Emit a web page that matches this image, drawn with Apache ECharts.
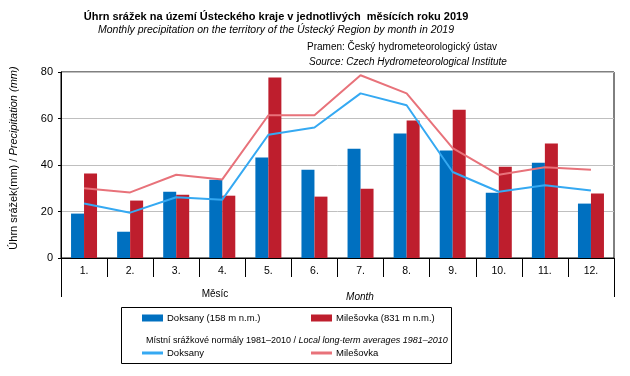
<!DOCTYPE html>
<html><head><meta charset="utf-8">
<script src="https://cdn.jsdelivr.net/npm/echarts@6/dist/echarts.min.js"></script>
<style>html,body{margin:0;padding:0;background:#fff}#c{width:630px;height:376px}</style>
</head><body><div id="c"></div>
<script>
const months = ['1.','2.','3.','4.','5.','6.','7.','8.','9.','10.','11.','12.'];
const doksany2019 = [19.1, 11.3, 28.5, 33.7, 43.2, 38.0, 47.0, 53.5, 46.2, 28.1, 41.0, 23.4];
const milesovka2019 = [36.3, 24.7, 27.2, 26.8, 77.6, 26.4, 29.8, 59.1, 63.8, 39.3, 49.2, 27.7];
const doksanyNormal = [23.4, 19.5, 26.1, 25.1, 53.0, 56.1, 70.8, 65.7, 37.0, 28.5, 31.3, 29.0];
const milesovkaNormal = [30.0, 28.2, 35.8, 33.8, 61.4, 61.4, 78.6, 70.8, 47.3, 35.8, 39.0, 38.0];
const yTicks = {min: 0, max: 80, interval: 20};

const FONT = 'Liberation Sans, Arial, sans-serif';
const chart = echarts.init(document.getElementById('c'), null, {renderer: 'canvas'});
const legendBase = {
  orient: 'horizontal', itemWidth: 21, itemHeight: 7, itemGap: 0,
  textStyle: {fontFamily: FONT, fontSize: 9.5, color: '#000', padding: [0, 0, 0, -1]},
  padding: 0, selectedMode: false
};
chart.setOption({
  animation: false,
  textStyle: {fontFamily: FONT},
  title: [
    {text: 'Úhrn srážek na území Ústeckého kraje v jednotlivých  měsících roku 2019', left: 271, top: 6, textAlign: 'center',
     textStyle: {fontFamily: FONT, fontSize: 11, fontWeight: 'bold', color: '#000'}},
    {text: 'Monthly precipitation on the territory of the Ústecký Region by month in 2019', left: 271, top: 20, textAlign: 'center',
     textStyle: {fontFamily: FONT, fontSize: 10.5, fontStyle: 'italic', fontWeight: 'normal', color: '#000'}},
    {text: 'Pramen: Český hydrometeorologický ústav', left: 302, top: 37,
     textStyle: {fontFamily: FONT, fontSize: 10, fontWeight: 'normal', color: '#000'}},
    {text: 'Source: Czech Hydrometeorological Institute', left: 304, top: 52,
     textStyle: {fontFamily: FONT, fontSize: 10, fontStyle: 'italic', fontWeight: 'normal', color: '#000'}},
    {text: 'Měsíc', left: 210, top: 284, textAlign: 'center',
     textStyle: {fontFamily: FONT, fontSize: 10, fontWeight: 'normal', color: '#000'}},
    {text: 'Month', left: 355, top: 287, textAlign: 'center',
     textStyle: {fontFamily: FONT, fontSize: 10, fontStyle: 'italic', fontWeight: 'normal', color: '#000'}},
    {text: 'Místní srážkové normály 1981–2010 / {i|Local long-term averages 1981–2010}', left: 141, top: 331,
     textStyle: {fontFamily: FONT, fontSize: 9, fontWeight: 'normal', color: '#000',
       rich: {i: {fontFamily: FONT, fontSize: 9, fontStyle: 'italic', color: '#000'}}}}
  ],
  graphic: [
    {type: 'rect', shape: {x: 121.5, y: 307.5, width: 330, height: 56},
     style: {fill: 'none', stroke: '#000', lineWidth: 1}, z: -1}
  ],
  legend: [
    Object.assign({}, legendBase, {left: 142, top: 313, data: [{name: 'Doksany (158 m n.m.)', icon: 'rect'}]}),
    Object.assign({}, legendBase, {left: 311, top: 313, data: [{name: 'Milešovka (831 m n.m.)', icon: 'rect'}]}),
    Object.assign({}, legendBase, {left: 142, top: 348, data: [{name: 'Doksany', icon: 'rect'}], itemHeight: 3}),
    Object.assign({}, legendBase, {left: 311, top: 348, data: [{name: 'Milešovka', icon: 'rect'}], itemHeight: 3})
  ],
  grid: {left: 60, right: 16, top: 72, bottom: 118, show: true, borderColor: '#000', borderWidth: 1, containLabel: false},
  xAxis: [
    {type: 'category', data: months, position: 'bottom',
     axisLine: {lineStyle: {color: '#000', width: 1}},
     axisTick: {show: true, length: 19, interval: 0, lineStyle: {color: '#000'}},
     axisLabel: {margin: 8, fontSize: 10.5, color: '#000', fontFamily: FONT, interval: 0}},
    {type: 'category', data: [''], position: 'bottom',
     axisLine: {show: false},
     axisTick: {show: true, length: 39, lineStyle: {color: '#000'}},
     axisLabel: {show: false}}
  ],
  yAxis: {
    type: 'value', min: yTicks.min, max: yTicks.max, interval: yTicks.interval,
    name: 'Úhrn srážek(mm) / {i|Precipitation (mm)}', nameLocation: 'middle', nameGap: 42, nameRotate: 90,
    nameTextStyle: {fontFamily: FONT, fontSize: 11, color: '#000', padding: [0, 0, 0, 14],
      rich: {i: {fontFamily: FONT, fontSize: 11, fontStyle: 'italic', color: '#000'}}},
    axisLine: {show: true, lineStyle: {color: '#000'}},
    axisTick: {show: true, length: 3, lineStyle: {color: '#000'}},
    axisLabel: {margin: 8, fontSize: 11, color: '#000', fontFamily: FONT},
    splitLine: {lineStyle: {color: '#bfbfbf', width: 1}}
  },
  series: [
    {name: 'Doksany (158 m n.m.)', type: 'bar', data: doksany2019, barWidth: 13, barGap: '0%', itemStyle: {color: '#0070C0'}},
    {name: 'Milešovka (831 m n.m.)', type: 'bar', data: milesovka2019, barWidth: 13, barGap: '0%', itemStyle: {color: '#BE1E2D'}},
    {name: 'Doksany', type: 'line', data: doksanyNormal, symbol: 'none', lineStyle: {color: '#35A9F2', width: 2}, itemStyle: {color: '#35A9F2'}},
    {name: 'Milešovka', type: 'line', data: milesovkaNormal, symbol: 'none', lineStyle: {color: '#E8727A', width: 2}, itemStyle: {color: '#E8727A'}}
  ]
});
</script></body></html>
